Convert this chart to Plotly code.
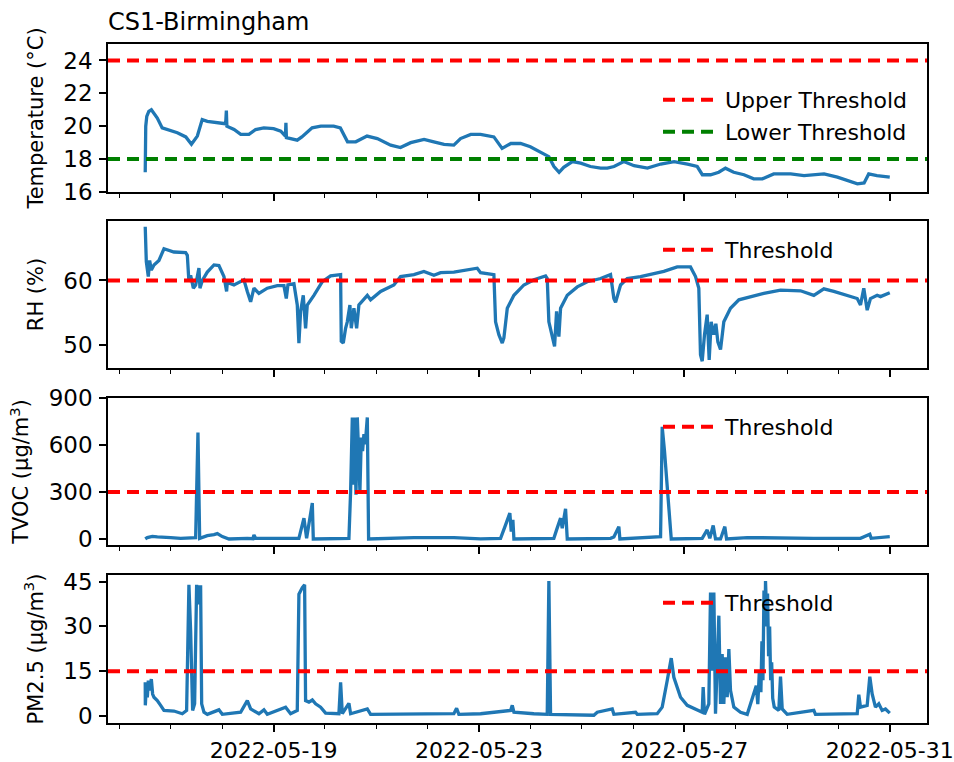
import pandas as pd
import plotly.graph_objects as go

START = pd.Timestamp("2022-05-16 00:00")

# ---------------- data (days since 2022-05-16 00:00) ----------------
temp_t = [0.50, 0.51, 0.53, 0.57, 0.62, 0.68, 0.735, 0.83, 0.93, 1.125,
          1.29, 1.40, 1.515, 1.61, 1.71, 1.84, 2.066, 2.08, 2.09, 2.23,
          2.36, 2.52, 2.65, 2.81, 3.00, 3.14, 3.23, 3.24, 3.25, 3.46,
          3.55, 3.75, 3.92, 4.17, 4.30, 4.44, 4.60, 4.82, 5.02, 5.28,
          5.47, 5.67, 5.93, 6.12, 6.32, 6.51, 6.64, 6.84, 7.03, 7.29,
          7.45, 7.62, 7.81, 8.00, 8.23, 8.36, 8.46, 8.56, 8.65, 8.82,
          8.98, 9.17, 9.37, 9.50, 9.63, 9.82, 10.02, 10.28, 10.54, 10.80,
          11.06, 11.25, 11.35, 11.51, 11.67, 11.80, 11.96, 12.16, 12.35, 12.52,
          12.74, 13.07, 13.33, 13.72, 13.98, 14.17, 14.37, 14.50, 14.59, 14.75,
          15.00]
temp_v = [17.2, 20.0, 20.6, 20.9, 21.0, 20.7, 20.5, 19.9, 19.8, 19.6,
          19.35, 18.9, 19.4, 20.4, 20.3, 20.25, 20.15, 20.95, 20.0, 19.8,
          19.5, 19.5, 19.8, 19.9, 19.85, 19.7, 19.4, 20.2, 19.3, 19.15,
          19.35, 19.9, 20.0, 20.0, 19.9, 19.05, 19.05, 19.4, 19.25, 18.85,
          18.7, 19.0, 19.2, 19.05, 18.9, 18.85, 19.25, 19.5, 19.5, 19.35,
          18.65, 18.95, 18.95, 18.75, 18.35, 18.15, 17.55, 17.2, 17.5, 17.85,
          17.75, 17.55, 17.45, 17.45, 17.55, 17.85, 17.6, 17.45, 17.7, 17.85,
          17.7, 17.55, 17.05, 17.05, 17.2, 17.45, 17.2, 17.05, 16.8, 16.8,
          17.1, 17.1, 17.0, 17.1, 16.9, 16.7, 16.5, 16.55, 17.1, 17.0,
          16.9]

rh_t = [0.50, 0.521, 0.560, 0.586, 0.619, 0.670, 0.767, 0.865, 1.06, 1.287,
        1.32, 1.351, 1.384, 1.437, 1.482, 1.546, 1.566, 1.612, 1.709, 1.839,
        1.935, 2.033, 2.085, 2.098, 2.228, 2.358, 2.422, 2.488, 2.553, 2.617,
        2.714, 2.877, 3.072, 3.201, 3.247, 3.279, 3.396, 3.461, 3.493, 3.526,
        3.578, 3.623, 3.656, 3.785, 3.949, 4.110, 4.305, 4.318, 4.357, 4.402,
        4.435, 4.486, 4.513, 4.564, 4.617, 4.661, 4.825, 4.889, 5.084, 5.343,
        5.473, 5.733, 5.927, 6.122, 6.252, 6.511, 6.772, 6.966, 7.031, 7.290,
        7.323, 7.387, 7.453, 7.485, 7.551, 7.615, 7.680, 7.874, 8.069, 8.297,
        8.329, 8.361, 8.427, 8.472, 8.511, 8.556, 8.589, 8.719, 8.914, 9.108,
        9.368, 9.562, 9.627, 9.660, 9.757, 9.887, 10.146, 10.341, 10.600, 10.860,
        11.119, 11.217, 11.281, 11.314, 11.347, 11.392, 11.444, 11.483, 11.522, 11.574,
        11.613, 11.652, 11.704, 11.768, 11.898, 12.061, 12.288, 12.547, 12.872, 13.262,
        13.521, 13.716, 13.910, 14.171, 14.366, 14.430, 14.494, 14.560, 14.624, 14.754,
        14.819, 15.0]
rh_v = [68.3, 62.9, 60.6, 63.1, 61.6, 62.4, 63.1, 64.9, 64.4, 64.3,
        63.9, 59.8, 60.8, 58.8, 59.3, 61.9, 58.8, 60.0, 61.3, 62.4,
        62.3, 60.6, 58.3, 59.7, 59.3, 59.8, 60.1, 58.3, 56.7, 58.8,
        58.0, 58.8, 59.2, 59.2, 57.2, 59.3, 59.5, 56.2, 50.3, 55.2,
        57.7, 52.6, 56.2, 57.7, 59.8, 60.7, 60.9, 50.6, 50.3, 52.6,
        53.6, 56.2, 52.6, 55.7, 52.6, 56.2, 57.7, 57.0, 58.3, 59.3,
        60.6, 60.9, 61.4, 60.8, 61.2, 61.3, 61.6, 61.9, 61.2, 60.9,
        53.6, 51.6, 50.3, 51.1, 55.7, 56.7, 57.7, 59.3, 60.1, 60.7,
        60.3, 53.6, 51.6, 49.8, 55.2, 51.3, 55.7, 57.7, 59.0, 59.8,
        60.3, 60.9, 57.2, 56.6, 59.3, 60.3, 60.6, 60.9, 61.4, 62.1,
        62.1, 60.6, 58.8, 48.5, 47.5, 51.6, 54.7, 47.7, 53.6, 51.6,
        53.3, 50.5, 49.3, 53.6, 55.7, 57.0, 57.5, 58.0, 58.5, 58.4,
        57.7, 58.7, 58.3, 57.7, 57.2, 56.2, 58.8, 55.4, 57.2, 57.7,
        57.5, 58.1]

tvoc_t = [0.50, 0.541, 0.638, 0.735, 0.995, 1.19, 1.482, 1.527, 1.560, 1.644,
          1.709, 1.839, 1.904, 2.001, 2.131, 2.488, 2.598, 2.617, 2.650, 3.493,
          3.591, 3.643, 3.688, 3.754, 3.773, 4.467, 4.500, 4.533, 4.552, 4.578,
          4.604, 4.630, 4.655, 4.681, 4.708, 4.733, 4.759, 4.785, 4.825, 4.850,
          5.733, 6.511, 7.031, 7.420, 7.518, 7.601, 7.628, 7.660, 7.680, 8.458,
          8.511, 8.589, 8.621, 8.686, 8.719, 9.562, 9.627, 9.724, 9.744, 10.471,
          10.536, 10.568, 10.613, 10.744, 11.347, 11.444, 11.495, 11.561, 11.606, 11.704,
          11.788, 11.821, 12.224, 13.521, 14.430, 14.611, 14.638, 15.0]
tvoc_v = [0, 9, 17, 13, 9, 4, 9, 680, 4, 15,
          21, 28, 34, 15, 0, 4, 2, 26, 4, 4,
          133, 4, 90, 229, 0, 4, 304, 776, 347, 776,
          283, 776, 561, 304, 647, 561, 669, 604, 776, 0,
          9, 9, 0, 4, 90, 165, 47, 122, 0, 4,
          58, 133, 68, 193, 0, 4, 13, 79, 0, 9,
          15, 716, 561, 0, 4, 58, 4, 86, 0, 0,
          79, 0, 9, 4, 4, 30, 4, 15]

pm_t = [0.50, 0.502, 0.521, 0.541, 0.560, 0.586, 0.619, 0.644, 0.670, 0.735,
        0.800, 0.865, 1.060, 1.222, 1.306, 1.351, 1.384, 1.404, 1.423, 1.462,
        1.501, 1.527, 1.546, 1.579, 1.599, 1.644, 1.709, 1.935, 2.001, 2.358,
        2.488, 2.553, 2.714, 2.812, 2.877, 3.234, 3.331, 3.461, 3.493, 3.559,
        3.604, 3.623, 3.688, 3.754, 3.818, 3.916, 4.013, 4.272, 4.305, 4.338,
        4.467, 4.500, 4.825, 4.889, 6.511, 6.564, 6.608, 7.031, 7.615, 7.648,
        7.680, 8.069, 8.329, 8.361, 8.394, 9.237, 9.303, 9.595, 9.627, 10.049,
        10.082, 10.471, 10.568, 10.666, 10.744, 10.795, 10.925, 11.055, 11.250, 11.347,
        11.366, 11.392, 11.476, 11.509, 11.542, 11.574, 11.606, 11.639, 11.671, 11.704,
        11.736, 11.768, 11.801, 11.834, 11.866, 11.898, 11.963, 12.093, 12.224, 12.400,
        12.430, 12.460, 12.490, 12.510, 12.530, 12.550, 12.570, 12.580, 12.600, 12.620,
        12.640, 12.660, 12.680, 12.700, 12.720, 12.750, 12.839, 12.872, 12.905,
        13.002, 13.521, 13.553, 14.366, 14.397, 14.430, 14.560, 14.611, 14.657, 14.721,
        14.786, 14.851, 14.916, 15.0]
pm_v = [11.3, 3.6, 10.2, 6.3, 11.9, 8.6, 12.4, 7.4, 6.3, 5.2,
        3.6, 1.9, 1.7, 0.8, 1.9, 43.9, 28.6, 15.2, 1.9, 4.1,
        43.9, 37.4, 43.2, 43.2, 4.1, 1.3, 0.6, 2.1, 0.6, 1.3,
        5.2, 2.4, 0.8, 2.1, 0.6, 3.0, 0.8, 1.9, 40.8, 43.0,
        43.9, 5.2, 4.7, 5.4, 4.1, 3.0, 1.0, 0.8, 11.3, 0.8,
        4.3, 0.8, 2.4, 0.6, 0.8, 2.6, 0.6, 0.8, 1.9, 3.6,
        1.3, 0.8, 0.6, 45.2, 0.6, 0.3, 1.3, 2.4, 0.6, 1.3,
        0.6, 0.8, 3.0, 11.9, 19.4, 13.0, 6.3, 3.6, 1.9, 1.3,
        9.7, 0.6, 4.1, 41.3, 15.2, 41.3, 0.8, 15.2, 33.6, 4.1,
        20.8, 4.1, 19.7, 6.3, 22.4, 8.6, 3.0, 1.3, 0.6, 10.2,
        4.0, 15.0, 8.0, 25.0, 12.0, 42.0, 30.0, 45.2, 35.0, 41.0,
        20.0, 30.0, 12.0, 18.0, 6.0, 3.0, 1.9, 13.2, 2.4,
        0.6, 1.9, 0.6, 0.8, 7.2, 3.0, 3.6, 13.2, 7.4, 3.0,
        4.1, 1.9, 2.4, 1.0]

temp_upper, temp_lower = 24, 18
rh_thr, tvoc_thr, pm_thr = 60, 300, 15

y_titles = ["Temperature (°C)", "RH (%)", "TVOC (μg/m<sup>3</sup>)", "PM2.5 (μg/m<sup>3</sup>)"]
y_ticks = [[16, 18, 20, 22, 24], [50, 60], [0, 300, 600, 900], [0, 15, 30, 45]]
y_ranges = [[16, 25], [46.45, 69.2], [-38.5, 900], [-2.3, 47.2]]

# ---------------- figure ----------------
FONT = "DejaVu Sans"
BLUE = "#1f77b4"
W, H = 954, 762
ML, MR, MT, MB = 108, 27, 44, 39
plot_h = H - MT - MB
panels_px = [(44, 192), (221, 368), (398, 545), (575, 723)]


def pdom(top, bot):
    return [(H - MB - bot) / plot_h, (H - MB - top) / plot_h]


def to_time(days):
    return START + pd.to_timedelta(pd.Series(days), unit="D")


series = [(temp_t, temp_v), (rh_t, rh_v), (tvoc_t, tvoc_v), (pm_t, pm_v)]

fig = go.Figure()
for i, (t, v) in enumerate(series):
    sfx = "" if i == 0 else str(i + 1)
    fig.add_trace(go.Scatter(x=to_time(t), y=v, mode="lines",
                             line=dict(color=BLUE, width=3.3),
                             xaxis="x" + sfx, yaxis="y" + sfx, showlegend=False))

all_t = pd.concat([to_time(s[0]) for s in series])
tmin, tmax = all_t.min(), all_t.max()
pad = (tmax - tmin) * 0.05
xrange = [tmin - pad, tmax + pad]

DASH = "12px,7px"
thr = [
    (0, temp_upper, "red", "Upper Threshold", "legend", 0.9175),
    (0, temp_lower, "green", "Lower Threshold", "legend2", 0.8704),
    (1, rh_thr, "red", "Threshold", "legend3", 0.6966),
    (2, tvoc_thr, "red", "Threshold", "legend4", 0.4359),
    (3, pm_thr, "red", "Threshold", "legend5", 0.1767),
]
leg_x = (658 - ML) / (W - ML - MR)
for (i, val, col, name, leg, ly) in thr:
    sfx = "" if i == 0 else str(i + 1)
    fig.add_shape(type="line", xref="x" + sfx + " domain", yref="y" + sfx,
                  x0=0, x1=1, y0=val, y1=val,
                  line=dict(color=col, width=4, dash=DASH))
    fig.add_trace(go.Scatter(x=[None], y=[None], mode="lines", name=name,
                             line=dict(color=col, width=4, dash=DASH),
                             xaxis="x" + sfx, yaxis="y" + sfx,
                             showlegend=True, legend=leg))
    fig.update_layout({leg: dict(x=leg_x, y=ly, xanchor="left", yanchor="middle",
                                 bgcolor="rgba(0,0,0,0)", itemwidth=57,
                                 font=dict(family=FONT, size=22, color="black"))})

axis_common = dict(showline=True, linecolor="black", linewidth=1.5, mirror=True,
                   showgrid=False, zeroline=False, ticks="outside", ticklen=7,
                   tickwidth=1.5, tickcolor="black")

for i in range(4):
    sfx = "" if i == 0 else str(i + 1)
    top, bot = panels_px[i]
    fig.update_layout({
        "xaxis" + sfx: dict(
            axis_common, type="date", range=xrange, anchor="y" + sfx,
            domain=[0, 1], matches=None if i == 3 else "x4",
            tick0="2022-05-19", dtick=4 * 86400000, tickformat="%Y-%m-%d",
            showticklabels=(i == 3),
            tickfont=dict(family=FONT, size=22, color="black"),
            minor=dict(tick0="2022-05-19", dtick=86400000, ticks="outside",
                       ticklen=4, tickwidth=1.2, tickcolor="black", showgrid=False)),
        "yaxis" + sfx: dict(
            axis_common, anchor="x" + sfx, domain=pdom(top, bot),
            range=y_ranges[i], tickvals=y_ticks[i], ticklabelstandoff=2,
            tickfont=dict(family=FONT, size=23, color="black"),
            title=dict(text=y_titles[i], standoff=14,
                       font=dict(family=FONT, size=21, color="black"))),
    })

fig.update_layout(
    width=W, height=H,
    margin=dict(l=ML, r=MR, t=MT, b=MB, autoexpand=False),
    paper_bgcolor="white", plot_bgcolor="white",
    title=dict(text="CS1-Birmingham", x=0, xref="paper", xanchor="left",
               y=1 - 22 / H, yref="container", yanchor="middle",
               font=dict(family=FONT, size=24, color="black")),
    font=dict(family=FONT, color="black"),
)

fig.write_html("out.html")
